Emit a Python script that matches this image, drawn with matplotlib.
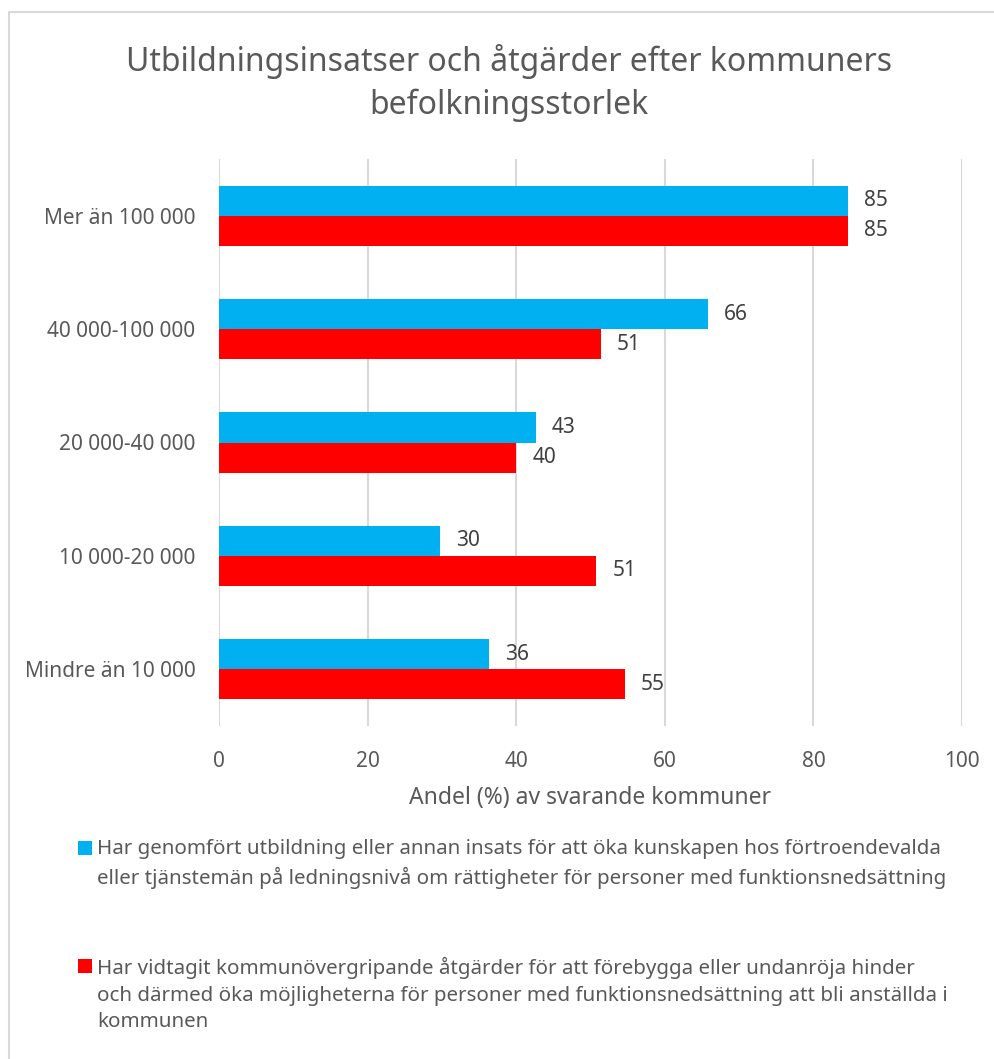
import matplotlib.pyplot as plt
from matplotlib.patches import Rectangle

plt.rcParams['font.family'] = ['Noto Sans', 'DejaVu Sans']

categories = ['Mer än 100 000', '40 000-100 000', '20 000-40 000',
              '10 000-20 000', 'Mindre än 10 000']
utbildning = [84.7, 65.8, 42.6, 29.8, 36.3]
atgarder = [84.6, 51.4, 40.0, 50.8, 54.6]
x_ticks = [0, 20, 40, 60, 80, 100]

label_blue = ('Har genomfört utbildning eller annan insats för att öka kunskapen hos förtroendevalda\n'
              'eller tjänstemän på ledningsnivå om rättigheter för personer med funktionsnedsättning')
label_red = ('Har vidtagit kommunövergripande åtgärder för att förebygga eller undanröja hinder\n'
             'och därmed öka möjligheterna för personer med funktionsnedsättning att bli anställda i\n'
             'kommunen')

blue = '#00b0f0'
red = '#ff0000'
gray = '#595959'

W, H = 995, 1059
fig = plt.figure(figsize=(W / 100, H / 100), dpi=100)

# chart border (only top and left visible in the crop)
fig.patches.append(Rectangle((9 / W, -0.1), 1.2, (H - 12) / H + 0.1,
                             transform=fig.transFigure, fill=False,
                             edgecolor='#d9d9d9', linewidth=1.5))

ax = fig.add_axes([219 / W, 1 - 726 / H, (962 - 219) / W, (726 - 159) / H])

n = len(categories)
ypos = [n - 1 - i for i in range(n)]
h = 0.265
ax.barh([y + h / 2 for y in ypos], utbildning, height=h, color=blue, zorder=2)
ax.barh([y - h / 2 for y in ypos], atgarder, height=h, color=red, zorder=2)

for y, v in zip(ypos, utbildning):
    ax.annotate(f'{v:.0f}', (v, y + h / 2), xytext=(11.5, 0), textcoords='offset points',
                va='center', ha='left', fontsize=15, color='#404040')
for y, v in zip(ypos, atgarder):
    ax.annotate(f'{v:.0f}', (v, y - h / 2), xytext=(11.5, 0), textcoords='offset points',
                va='center', ha='left', fontsize=15, color='#404040')

ax.set_xlim(0, 100)
ax.set_ylim(-0.5, n - 0.5)
ax.set_xticks(x_ticks)
ax.set_yticks(ypos)
ax.set_yticklabels(categories)
ax.grid(axis='x', color='#d9d9d9', linewidth=1.5, zorder=0)
for s in ax.spines.values():
    s.set_visible(False)
ax.tick_params(axis='both', length=0, labelsize=15, labelcolor=gray)
ax.tick_params(axis='y', pad=17)
ax.tick_params(axis='x', pad=18)
ax.set_xlabel('Andel (%) av svarande kommuner', fontsize=16.5, color=gray, labelpad=10)

fig.text(509 / W, 1 - 83 / H,
         'Utbildningsinsatser och åtgärder efter kommuners\nbefolkningsstorlek',
         ha='center', va='center', fontsize=23, color=gray, linespacing=1.35)

# legend
for col, lab, ytop in [(blue, label_blue, 848), (red, label_red, 966)]:
    fig.patches.append(Rectangle((78 / W, 1 - (ytop + 7) / H), 14 / W, 14 / H,
                                 transform=fig.transFigure, facecolor=col, edgecolor='none'))
    fig.text(97 / W, 1 - (ytop - 9) / H, lab, ha='left', va='top',
             fontsize=14.8, color=gray, linespacing=1.44)

fig.savefig('out.png', dpi=100)
